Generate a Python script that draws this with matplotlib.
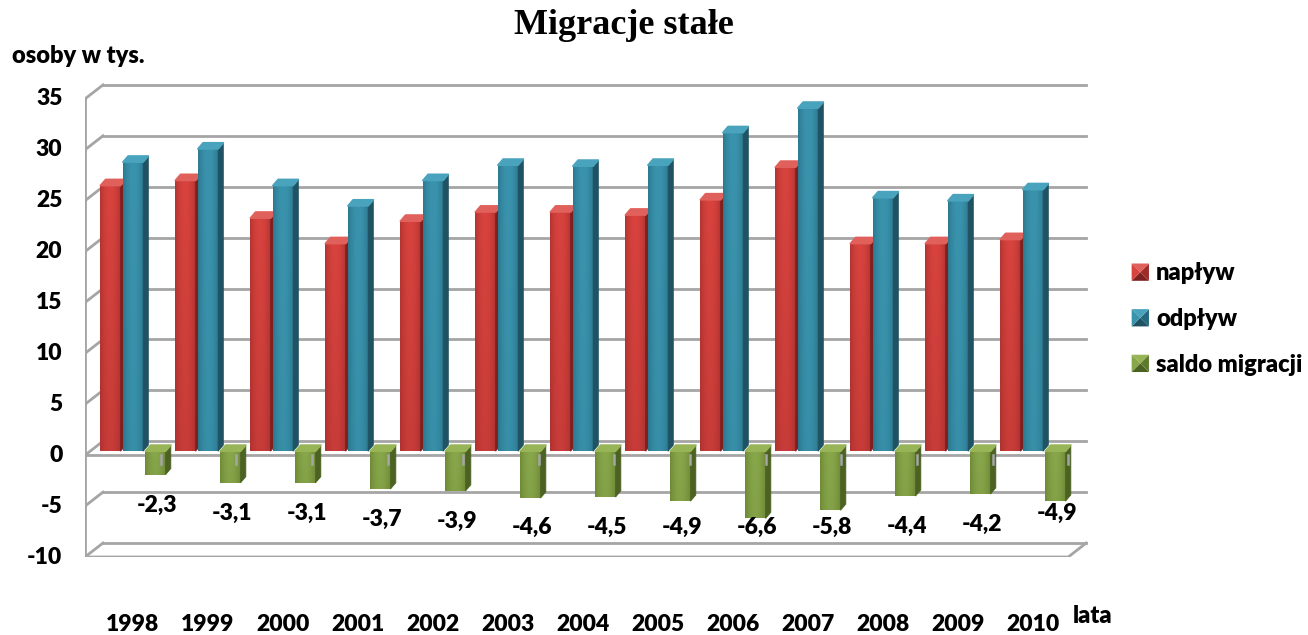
import numpy as np
import matplotlib
matplotlib.use("Agg")
import matplotlib.pyplot as plt
from matplotlib.patches import Polygon, Patch
from matplotlib.legend_handler import HandlerBase
from matplotlib.colors import to_rgb

# --- data (thousands of persons) ---
years = [1998, 1999, 2000, 2001, 2002, 2003, 2004, 2005, 2006, 2007, 2008, 2009, 2010]
naplyw = [26.1, 26.6, 22.9, 20.4, 22.6, 23.5, 23.5, 23.2, 24.7, 27.9, 20.4, 20.4, 20.8]
odplyw = [28.4, 29.7, 26.1, 24.1, 26.6, 28.1, 28.0, 28.1, 31.3, 33.7, 24.9, 24.6, 25.7]
saldo = [-2.3, -3.1, -3.1, -3.7, -3.9, -4.6, -4.5, -4.9, -6.6, -5.8, -4.4, -4.2, -4.9]
series_names = ["napływ", "odpływ", "saldo migracji"]
y_ticks = list(range(-10, 40, 5))

# colours: light face, dark face, side, cap
styles = {
    "napływ": ("#d8433e", "#9e2b2a", "#7e2020", "#e0615b"),
    "odpływ": ("#3a93ad", "#23687c", "#1f5363", "#4aa3bd"),
    "saldo migracji": ("#88a64a", "#5f7a2c", "#4c6222", "#97b556"),
}

FONT = "Lato"
WEIGHT = "heavy"
plt.rcParams["font.family"] = [FONT, "DejaVu Sans"]
plt.rcParams["font.weight"] = WEIGHT

# fake 3D geometry (axes units)
x_left = -0.64
x_right = 12.47
dx, dy = 0.24, 1.375          # shift of the back wall
base = 0.39                   # where the columns sit
spacing, front_w = 0.3, 0.27  # column spacing and face width
sw, ch = 0.07, 0.6            # column depth (x, y)
grid_col = "#a5a5a5"
num_size, word_size = 16.5, 17

fig = plt.figure(figsize=(13.08, 6.35), dpi=100)
ax = fig.add_axes([85 / 1308, 78 / 635, 1005 / 1308, 47 * 10.18 / 635])
ax.set_axis_off()

# back wall grid, side diagonals, left axis
for v in y_ticks:
    ax.plot([x_left + dx, x_right + dx], [v + dy, v + dy], color=grid_col, lw=2, zorder=1)
    ax.plot([x_left, x_left + dx], [v, v + dy], color=grid_col, lw=2, zorder=1)
    ax.plot([x_left - 0.07, x_left], [v, v], color=grid_col, lw=2, zorder=1)
    ax.text(x_left - 0.3, v, str(v), ha="right", va="center", fontsize=num_size,
            fontweight=WEIGHT, color="black")
ax.plot([x_left, x_left], [y_ticks[0], y_ticks[-1]], color=grid_col, lw=2, zorder=1)

# floor
ax.plot([x_left, x_right, x_right + dx], [-10, -10, -10 + dy], color=grid_col, lw=2, zorder=1)

# category axis at zero
ax.plot([x_left, x_right], [0, 0], color=grid_col, lw=2, zorder=2.5)
cat_w = (x_right - x_left) / len(years)
for k in range(1, len(years) + 1):
    xt = x_left + k * cat_w
    ax.plot([xt, xt], [0, -0.9], color=grid_col, lw=1.8, zorder=10)


def shade(light, dark, dim):
    light, dark = np.array(to_rgb(light)), np.array(to_rgb(dark))
    t = np.linspace(0, 1, 40)
    h = np.sin(np.pi * np.clip(t * 0.85 + 0.08, 0, 1)) ** 0.7
    s = np.linspace(1.0, dim, 40)[:, None]
    f = h[None, :] * s
    return dark + (light - dark) * f[..., None]


x = np.arange(len(years))
values = [naplyw, odplyw, saldo]
dims = [0.72, 0.9, 0.9]
for k, (name, vals) in enumerate(zip(series_names, values)):
    light, dark, side, cap = styles[name]
    bars = ax.bar(x + (k - 1) * spacing, vals, width=front_w, bottom=base,
                  color=dark, linewidth=0, zorder=3 + k)
    img = shade(light, dark, dims[k])
    for p in bars.patches:
        x0, x1 = p.get_x(), p.get_x() + p.get_width()
        lo, hi = sorted((p.get_y(), p.get_y() + p.get_height()))
        im = ax.imshow(img, extent=(x0, x1, lo, hi), aspect="auto",
                       zorder=3 + k + 0.01, interpolation="bilinear")
        im.set_clip_path(p)
        ax.add_patch(Polygon([(x1, lo), (x1 + sw, lo + ch), (x1 + sw, hi + ch), (x1, hi)],
                             closed=True, fc=side, ec=side, lw=0.5, joinstyle="round",
                             zorder=3 + k + 0.02))
        ax.add_patch(Polygon([(x0, hi), (x0 + sw, hi + ch), (x1 + sw, hi + ch), (x1, hi)],
                             closed=True, fc=cap, ec=cap, lw=1.2, joinstyle="round",
                             zorder=3 + k + 0.02))

# saldo labels
for i, v in enumerate(saldo):
    ly = max(base + v - 3.0, -7.1)
    if i == len(saldo) - 1:
        ly = -5.7
    ax.text(i + 0.32, ly, f"{v:.1f}".replace(".", ","), ha="center",
            va="center", fontsize=num_size, fontweight=WEIGHT, zorder=12)

# year labels
for i, yr in enumerate(years):
    ax.text(i, -16.6, str(yr), ha="center", va="center", fontsize=num_size,
            fontweight=WEIGHT, clip_on=False)
ax.text(12.8, -15.8, "lata", ha="center", va="center", fontsize=word_size,
        fontweight=WEIGHT, clip_on=False)

ax.set_xlim(x_left, x_left + 1005 / 75)
ax.set_ylim(-10, 37)

fig.text(624 / 1308, 1 - 26 / 635, "Migracje stałe", ha="center", va="center",
         fontsize=26, fontweight="bold", family="Liberation Serif")
fig.text(12 / 1308, 1 - 56 / 635, "osoby w tys.", ha="left", va="center",
         fontsize=word_size, fontweight=WEIGHT)


class PyramidHandler(HandlerBase):
    def create_artists(self, legend, orig_handle, xdescent, ydescent,
                       width, height, fontsize, trans):
        light, dark, side, cap = styles[orig_handle.get_label()]
        s = height
        x0 = -xdescent + (width - s) / 2
        y0 = -ydescent
        c = (x0 + s / 2, y0 + s / 2)
        corners = [(x0, y0), (x0 + s, y0), (x0 + s, y0 + s), (x0, y0 + s)]
        cols = [side, dark, cap, light]
        arts = []
        for j in range(4):
            tri = Polygon([corners[j], corners[(j + 1) % 4], c], closed=True,
                          fc=cols[j], ec="none", transform=trans)
            arts.append(tri)
        return arts


handles = [Patch(label=n) for n in series_names]
fig.legend(handles=handles, labels=series_names, loc="center left",
           bbox_to_anchor=(1122 / 1308, 1 - 319 / 635), frameon=False,
           handlelength=0.75, handleheight=0.75, handletextpad=0.3,
           borderaxespad=0, labelspacing=1.0, handler_map={Patch: PyramidHandler()},
           prop={"family": FONT, "weight": WEIGHT, "size": word_size})

fig.savefig("out.png", dpi=100)
